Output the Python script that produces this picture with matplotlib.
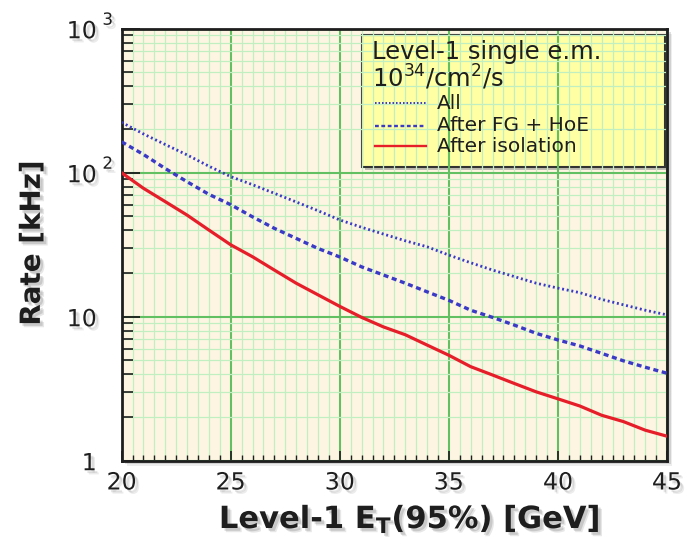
import matplotlib
matplotlib.use("Agg")
import matplotlib.pyplot as plt
import matplotlib.patheffects as pe
from matplotlib.patches import Rectangle
from matplotlib.lines import Line2D
from matplotlib.ticker import FixedLocator, LogLocator, NullFormatter

plt.rcParams["font.family"] = ["DejaVu Sans"]
plt.rcParams["mathtext.fontset"] = "dejavusans"
plt.rcParams["mathtext.default"] = "regular"

# Level-1 single e.m. trigger rate vs 95% efficiency threshold (L = 1e34 cm^-2 s^-1)
et_gev = [20, 21, 22, 23, 24, 25, 26, 27, 28, 29, 30, 31, 32,
          33, 34, 35, 36, 37, 38, 39, 40, 41, 42, 43, 44, 45]
rate_all = [224, 186, 157, 133, 111, 94, 82.6, 72, 62.7, 54.5, 47, 41.8, 37.5,
            33.7, 30.6, 26.8, 23.7, 21.1, 19, 17.1, 15.8, 14.7, 13.2, 12.1, 11.1, 10.3]
rate_fg_hoe = [164, 134, 107, 86.6, 70.8, 60, 49.4, 41.1, 35, 29.8, 26, 22.2, 19.5,
               17.1, 14.9, 13, 11.1, 9.9, 8.75, 7.67, 6.9, 6.27, 5.57, 4.94, 4.46, 4.05]
rate_iso = [100, 78, 63, 50.8, 40, 31.6, 26.1, 21.1, 17.1, 14.2, 11.8, 9.9, 8.5,
            7.5, 6.36, 5.4, 4.5, 3.94, 3.44, 3.01, 2.69, 2.4, 2.07, 1.87, 1.63, 1.48]

series_labels = ["All", "After FG + HoE", "After isolation"]
legend_title = ["Level-1 single e.m.", "10$^{34}$/cm$^{2}$/s"]

x_ticks = [20, 25, 30, 35, 40, 45]
x_tick_text = ["20", "25", "30", "35", "40", "45"]
y_ticks = [1, 10, 100, 1000]
y_tick_text = ["1", "10", "10", "10"]
y_tick_sup = ["", "", "2", "3"]

BG = "#fdf5e2"
MINOR_GRID = "#c2efc2"
MAJOR_GRID = "#62c062"
BLUE = "#3a3ac6"
RED = "#e61e2a"
INK = "#1e1e1e"


def soft_shadow(strength=1.0):
    return [pe.SimplePatchShadow(offset=(3, -3), shadow_rgbFace="#666666", alpha=0.12 * strength),
            pe.SimplePatchShadow(offset=(2, -2), shadow_rgbFace="#666666", alpha=0.18 * strength),
            pe.Normal()]


fig = plt.figure(figsize=(6.87, 5.37), dpi=100)
fig.patch.set_facecolor("white")
ax = fig.add_axes([0.177, 0.142, 0.794, 0.8045])

# drop shadow behind the plotting frame
for off, a in [(5, 0.10), (3.5, 0.18), (2, 0.28)]:
    fig.patches.append(Rectangle((0.177 + off / 687, 0.142 - off / 537), 0.794, 0.8045,
                                 transform=fig.transFigure, facecolor="#555555",
                                 edgecolor="none", alpha=a, zorder=-5))

ax.set_facecolor(BG)
ax.set_yscale("log")
ax.set_xlim(20, 45)
ax.set_ylim(1, 1000)
ax.set_axisbelow(True)

ax.plot(et_gev, rate_all, color=BLUE, lw=2.0, linestyle=(0, (0.7, 1.0)), zorder=3)
ax.plot(et_gev, rate_fg_hoe, color=BLUE, lw=2.4, linestyle=(0, (1.5, 1.1)), zorder=3)
ax.plot(et_gev, rate_iso, color=RED, lw=2.3, zorder=3)

# ticks and grid
ax.xaxis.set_major_locator(FixedLocator(x_ticks))
ax.xaxis.set_minor_locator(FixedLocator([20 + 0.5 * i for i in range(51)]))
ax.set_xticklabels(x_tick_text)
ax.yaxis.set_major_locator(FixedLocator(y_ticks))
ax.yaxis.set_minor_locator(LogLocator(base=10, subs=range(2, 10)))
ax.yaxis.set_minor_formatter(NullFormatter())
ax.set_yticklabels(y_tick_text)

ax.grid(which="minor", color=MINOR_GRID, lw=0.9)
ax.grid(which="major", color=MAJOR_GRID, lw=1.5)

ax.tick_params(axis="y", which="major", direction="in", length=13, width=1.3,
               color=INK, pad=18, labelsize=17, labelcolor=INK)
ax.tick_params(axis="y", which="minor", direction="in", length=8, width=1.2, color=INK)
ax.tick_params(axis="x", which="major", direction="in", length=7, width=1.2,
               color=INK, pad=7, labelsize=17, labelcolor=INK)
ax.tick_params(axis="x", which="minor", direction="in", length=4, width=1.0, color=INK)

for lab in ax.get_xticklabels() + ax.get_yticklabels():
    lab.set_path_effects(soft_shadow())

for v, s in zip(y_ticks, y_tick_sup):
    if s:
        ax.annotate(s, xy=(0, v), xycoords=("axes fraction", "data"),
                    xytext=(-10, 6.5), textcoords="offset points",
                    ha="center", va="center", fontsize=12, color=INK,
                    path_effects=soft_shadow(), annotation_clip=False)

for sp in ax.spines.values():
    sp.set_color(INK)
    sp.set_linewidth(2)

ax.set_xlabel("Level-1 E$_\\mathbf{T}$(95%) [GeV]", fontsize=22, fontweight="bold",
              color=INK, path_effects=soft_shadow(1.3))
ax.xaxis.set_label_coords(0.527, -0.135)
ax.xaxis.label.set_va("center")
ax.set_ylabel("Rate [kHz]", fontsize=20, fontweight="bold", color=INK,
              path_effects=soft_shadow(1.3))
ax.yaxis.set_label_coords(-0.1645, 0.504)
ax.yaxis.label.set_va("center")

# legend panel (grid shows through it)
bx0, bx1, by0, by1 = 0.440, 0.9963, 0.6806, 0.9854
ax.add_patch(Rectangle((bx0 + 0.006, by0 - 0.008), bx1 - bx0, by1 - by0,
                       transform=ax.transAxes, facecolor="#777777", edgecolor="none",
                       alpha=0.45, zorder=0.1))
ax.add_patch(Rectangle((bx0, by0), bx1 - bx0, by1 - by0, transform=ax.transAxes,
                       facecolor="#ffffa4", edgecolor="#333333", lw=1.5, zorder=0.2))

ax.text(0.459, 0.947, legend_title[0], transform=ax.transAxes, fontsize=17.5,
        color=INK, ha="left", va="center", zorder=4)
ax.text(0.459, 0.888, legend_title[1], transform=ax.transAxes, fontsize=17.5,
        color=INK, ha="left", va="center", zorder=4)

styles = [dict(color=BLUE, lw=1.4, linestyle=(0, (0.8, 1.0))),
          dict(color=BLUE, lw=1.7, linestyle=(0, (1.6, 1.1))),
          dict(color=RED, lw=1.7)]
rows = [0.827, 0.776, 0.728]
for lbl, st, yy in zip(series_labels, styles, rows):
    ax.add_line(Line2D([0.4645, 0.558], [yy, yy], transform=ax.transAxes, zorder=4, **st))
    ax.text(0.578, yy, lbl, transform=ax.transAxes, fontsize=14.5, color=INK,
            ha="left", va="center", zorder=4)

fig.savefig("out.png", dpi=100, facecolor="white")
